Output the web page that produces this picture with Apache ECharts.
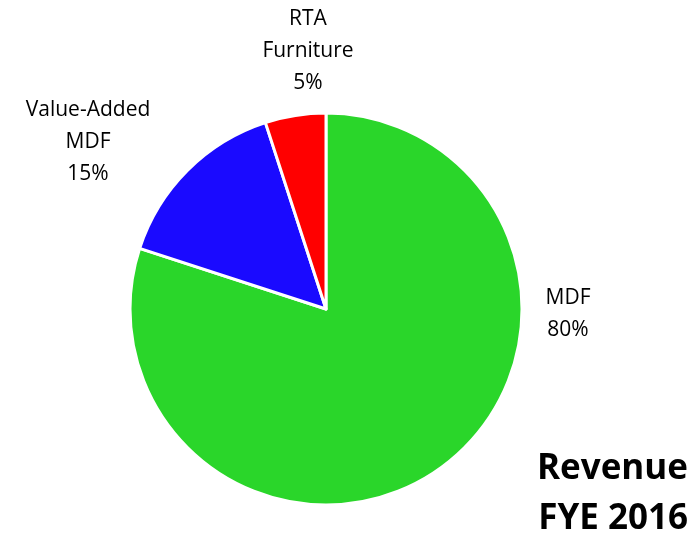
<!DOCTYPE html>
<html><head><meta charset="utf-8">
<script src="https://cdn.jsdelivr.net/npm/echarts@6/dist/echarts.min.js"></script>
<style>html,body{margin:0;padding:0;background:#fff}#c{width:692px;height:540px}</style>
</head><body><div id="c"></div>
<script>
const categories = ['MDF', 'Value-Added\nMDF', 'RTA\nFurniture'];
const values = [80, 15, 5];
const colors = ['#2AD62A', '#1A0AFF', '#FF0000'];
const titleLines = ['Revenue', 'FYE 2016'];

const labelPos = [[568, 314], [88, 142], [308, 51]];

const chart = echarts.init(document.getElementById('c'));
chart.setOption({
  animation: false,
  graphic: titleLines.map((t, i) => ({
    type: 'text',
    right: 4,
    top: 452 + i * 50,
    style: { text: t, fontFamily: 'Open Sans', fontWeight: 'bold', fontSize: 35, fill: '#000' }
  })),
  series: [{
    type: 'pie',
    center: [326, 309],
    radius: 196,
    startAngle: 90,
    clockwise: true,
    itemStyle: { borderColor: '#fff', borderWidth: 3 },
    label: {
      show: true,
      position: 'outside',
      formatter: p => p.name + '\n' + p.value + '%',
      fontFamily: 'Open Sans',
      fontSize: 21,
      lineHeight: 32,
      color: '#000',
      align: 'center',
      overflow: 'none',
      width: 200
    },
    labelLine: { show: false },
    labelLayout: p => ({ x: labelPos[p.dataIndex][0], y: labelPos[p.dataIndex][1], align: 'center', verticalAlign: 'middle' }),
    data: categories.map((c, i) => ({ name: c, value: values[i], itemStyle: { color: colors[i] } }))
  }]
});
</script></body></html>
